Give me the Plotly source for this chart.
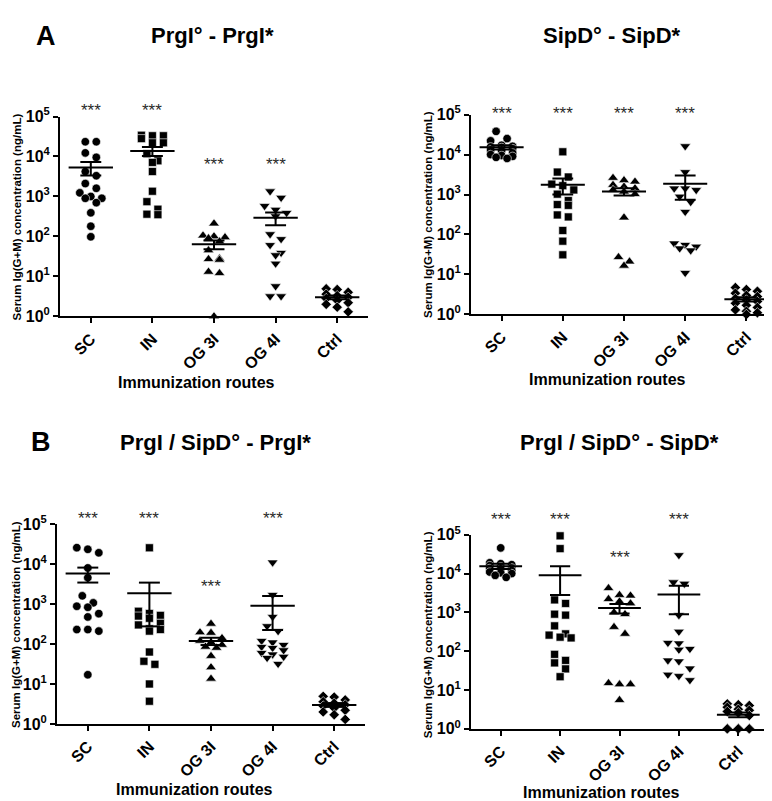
import numpy as np
import plotly.graph_objects as go

# ---------------- data ----------------
categories = ["SC", "IN", "OG 3I", "OG 4I", "Ctrl"]
y_tick_values = [1, 10, 100, 1000, 10000, 100000]
y_tick_labels = ["10<sup>0</sup>", "10<sup>1</sup>", "10<sup>2</sup>",
                 "10<sup>3</sup>", "10<sup>4</sup>", "10<sup>5</sup>"]
panel_titles = ["PrgI° - PrgI*", "SipD° - SipD*",
                "PrgI / SipD° - PrgI*", "PrgI / SipD° - SipD*"]
panel_letters = ["A", "B"]
y_title = "Serum Ig(G+M) concentration (ng/mL)"
x_title = "Immunization routes"
signif_text = "***"

# Panel A left : PrgI° - PrgI*
a1_sc = [23400, 23400, 12300, 9500, 4200, 3300, 2100, 1600, 1230, 1000, 900, 900, 700, 390, 180, 98]
a1_in = [34000, 33000, 33000, 28000, 22000, 22000, 11700, 7800, 7100, 4200, 1350, 740, 480, 350, 360]
a1_og3 = [210, 105, 100, 95, 90, 75, 45, 28, 26, 27, 13, 12, 1.0]
a1_og4 = [1350, 930, 580, 465, 390, 320, 114, 86, 61, 39, 34, 21, 5.7, 3.2, 3.2]
a1_ctrl = [4.9, 4.7, 4.0, 3.6, 3.3, 3.0, 2.8, 2.5, 2.2, 2.0, 1.7, 1.3]

# Panel A right : SipD° - SipD*
a2_sc = [38000, 25000, 22000, 17000, 16000, 15500, 15000, 14000, 13000, 12500, 11000, 10000, 9500, 9000, 8500, 8000]
a2_in = [11700, 3640, 2740, 1820, 1660, 1300, 1020, 705, 560, 535, 308, 275, 126, 68, 31]
a2_og3 = [2600, 2270, 2090, 1730, 1570, 1420, 1300, 1180, 1020, 265, 27, 21, 16.5]
a2_og4 = [16200, 3640, 1420, 1420, 1300, 890, 650, 370, 60, 55, 50, 45, 40, 11]
a2_ctrl = [4.7, 4.2, 3.8, 3.4, 3.0, 2.8, 2.5, 2.3, 2.1, 1.9, 1.7, 1.5, 1.3, 1.2, 1.1, 1.0]

# Panel B left : PrgI / SipD° - PrgI*
b1_sc = [25700, 23400, 19100, 8000, 4570, 1600, 1070, 880, 830, 575, 475, 230, 230, 210, 17]
b1_in = [25500, 660, 580, 520, 500, 440, 330, 300, 240, 230, 210, 63, 37, 31, 10, 3.7]
b1_og3 = [320, 195, 190, 140, 120, 110, 95, 85, 80, 50, 26, 13.5]
b1_og4 = [11000, 1700, 480, 280, 210, 120, 110, 95, 85, 80, 70, 60, 55, 48, 45, 32]
b1_ctrl = [4.9, 4.7, 4.0, 3.6, 3.3, 3.0, 2.8, 2.5, 2.2, 2.0, 1.7, 1.3]

# Panel B right : PrgI / SipD° - SipD*
b2_sc = [46000, 19000, 18000, 17000, 16000, 15000, 14000, 13500, 13000, 12000, 11000, 10500, 10000, 9000, 8000]
b2_in = [94000, 44000, 2100, 1700, 900, 850, 450, 280, 260, 230, 220, 83, 58, 50, 35, 22]
b2_og3 = [4200, 2800, 2700, 2200, 1900, 1700, 1000, 900, 420, 280, 15, 14, 14, 5.5]
b2_og4 = [30000, 6000, 5500, 850, 320, 165, 160, 115, 110, 58, 55, 36, 25, 23, 18]
b2_ctrl = [4.4, 4.2, 4.0, 3.6, 3.2, 3.0, 2.8, 2.6, 2.2, 1.0, 1.0, 1.0, 1.0, 1.0, 1.0, 1.0]

# ---------------- layout / style ----------------
W, H = 772, 801
FONT = "Liberation Sans, Arial, sans-serif"
symbols = ["circle", "square", "triangle-up", "triangle-down", "diamond"]
sizes = [8.5, 8, 9.5, 9.5, 8]


def px(x):
    return x / W


def py(y):
    return 1 - y / H


panels = [
    dict(groups=[a1_sc, a1_in, a1_og3, a1_og4, a1_ctrl], box=(52, 360, 100, 305),
         title=(204, 17), ytitle=(8.5, 203), xtitle=(188, 373),
         stars=[(0, 5.24), (1, 5.24), (2, 3.9), (3, 3.9)]),
    dict(groups=[a2_sc, a2_in, a2_og3, a2_og4, a2_ctrl], box=(463, 769, 98, 303),
         title=(604, 17), ytitle=(420, 201), xtitle=(599, 370),
         stars=[(0, 5.13), (1, 5.13), (2, 5.13), (3, 5.13)]),
    dict(groups=[b1_sc, b1_in, b1_og3, b1_og4, b1_ctrl], box=(49, 357, 518, 723),
         title=(207, 434), ytitle=(8.5, 621), xtitle=(186, 790),
         stars=[(0, 5.24), (1, 5.24), (2, 3.54), (3, 5.24)]),
    dict(groups=[b2_sc, b2_in, b2_og3, b2_og4, b2_ctrl], box=(463, 760, 529, 728),
         title=(611, 434), ytitle=(420, 632), xtitle=(593, 793),
         stars=[(0, 5.5), (1, 5.5), (2, 4.52), (3, 5.5)]),
]


def swarm_offsets(values, px_per_decade, cat_px, marker_px=8.5, spacing_px=11, max_row=3):
    logs = np.log10(np.asarray(values, dtype=float))
    order = np.argsort(-logs, kind="stable")
    offsets = np.zeros(len(values))
    rows, current = [], []
    for idx in order:
        if current and (logs[current[0]] - logs[idx]) * px_per_decade < marker_px and len(current) < max_row:
            current.append(idx)
        else:
            if current:
                rows.append(current)
            current = [idx]
    if current:
        rows.append(current)
    for row in rows:
        n = len(row)
        for k, idx in enumerate(row):
            offsets[idx] = (k - (n - 1) / 2) * spacing_px / cat_px
    return offsets


fig = go.Figure()
annotations = []

for p_i, p in enumerate(panels):
    x0, x1, ytop, ybot = p["box"]
    sfx = "" if p_i == 0 else str(p_i + 1)
    xa, ya = "x" + sfx, "y" + sfx
    cat_px = (x1 - x0) / 5.0
    dec_px = (ybot - ytop) / 5.0

    for g_i, vals in enumerate(p["groups"]):
        vals = np.asarray(vals, dtype=float)
        offs = swarm_offsets(vals, dec_px, cat_px)
        fig.add_trace(go.Scatter(
            x=g_i + offs, y=vals, mode="markers", xaxis=xa, yaxis=ya,
            marker=dict(symbol=symbols[g_i], size=sizes[g_i], color="black",
                        line=dict(color="white", width=0.6)),
            cliponaxis=False, showlegend=False, hoverinfo="y"))
        mean = vals.mean()
        sem = vals.std(ddof=1) / np.sqrt(len(vals))
        lo, hi = mean - sem, mean + sem
        lx = [g_i - 0.36, g_i + 0.36, None,
              g_i, g_i, None,
              g_i - 0.17, g_i + 0.17, None,
              g_i - 0.17, g_i + 0.17]
        ly = [mean, mean, None, lo, hi, None, lo, lo, None, hi, hi]
        fig.add_trace(go.Scatter(
            x=lx, y=ly, mode="lines", xaxis=xa, yaxis=ya,
            line=dict(color="black", width=2), cliponaxis=False,
            showlegend=False, hoverinfo="skip"))

    # significance marks: converted from (category, log10 value) to paper coordinates
    for cat_i, lg in p["stars"]:
        sx = x0 + (cat_i + 0.5) * cat_px
        sy = ybot - lg * dec_px
        annotations.append(dict(x=px(sx), y=py(sy), xref="paper", yref="paper", text=signif_text,
                                showarrow=False, yshift=-4, xanchor="center", yanchor="middle",
                                font=dict(family=FONT, size=17, color="#2a2a2a")))

    axis_common = dict(showline=True, linecolor="black", linewidth=2, ticks="outside",
                       ticklen=5, tickwidth=2, tickcolor="black", showgrid=False,
                       zeroline=False, mirror=False)
    fig.update_layout(**{
        ("xaxis" + sfx): dict(domain=[px(x0), px(x1)], range=[-0.5, 4.5],
                              tickvals=list(range(5)), ticktext=categories,
                              tickangle=-45, anchor=ya,
                              tickfont=dict(family=FONT, size=16, color="black", weight="bold"),
                              **axis_common),
        ("yaxis" + sfx): dict(domain=[py(ybot), py(ytop)], type="log", range=[0, 5],
                              tickvals=y_tick_values, ticktext=y_tick_labels, anchor=xa,
                              tickfont=dict(family=FONT, size=16, color="black", weight="bold"),
                              **axis_common),
    })

    tx, ty = p["title"]
    annotations.append(dict(x=px(tx), y=py(ty), xref="paper", yref="paper",
                            text=panel_titles[p_i], showarrow=False,
                            xanchor="center", yanchor="middle",
                            font=dict(family=FONT, size=22, color="black", weight="bold")))
    yx, yy = p["ytitle"]
    annotations.append(dict(x=px(yx), y=py(yy), xref="paper", yref="paper",
                            text=y_title, textangle=-90, showarrow=False,
                            xanchor="center", yanchor="middle",
                            font=dict(family=FONT, size=11.5, color="black", weight="bold")))
    xx, xy = p["xtitle"]
    annotations.append(dict(x=px(xx), y=py(xy), xref="paper", yref="paper",
                            text=x_title, showarrow=False,
                            xanchor="center", yanchor="middle",
                            font=dict(family=FONT, size=16, color="black", weight="bold")))

for letter, (lx_, ly_) in zip(panel_letters, [(37.5, 17), (33, 434)]):
    annotations.append(dict(x=px(lx_), y=py(ly_), xref="paper", yref="paper",
                            text=letter, showarrow=False, xanchor="center", yanchor="middle",
                            font=dict(family=FONT, size=27, color="black", weight="bold")))

fig.update_layout(width=W, height=H, margin=dict(l=0, r=0, t=0, b=0),
                  paper_bgcolor="white", plot_bgcolor="white",
                  annotations=annotations, showlegend=False)

fig.write_html("out.html")
